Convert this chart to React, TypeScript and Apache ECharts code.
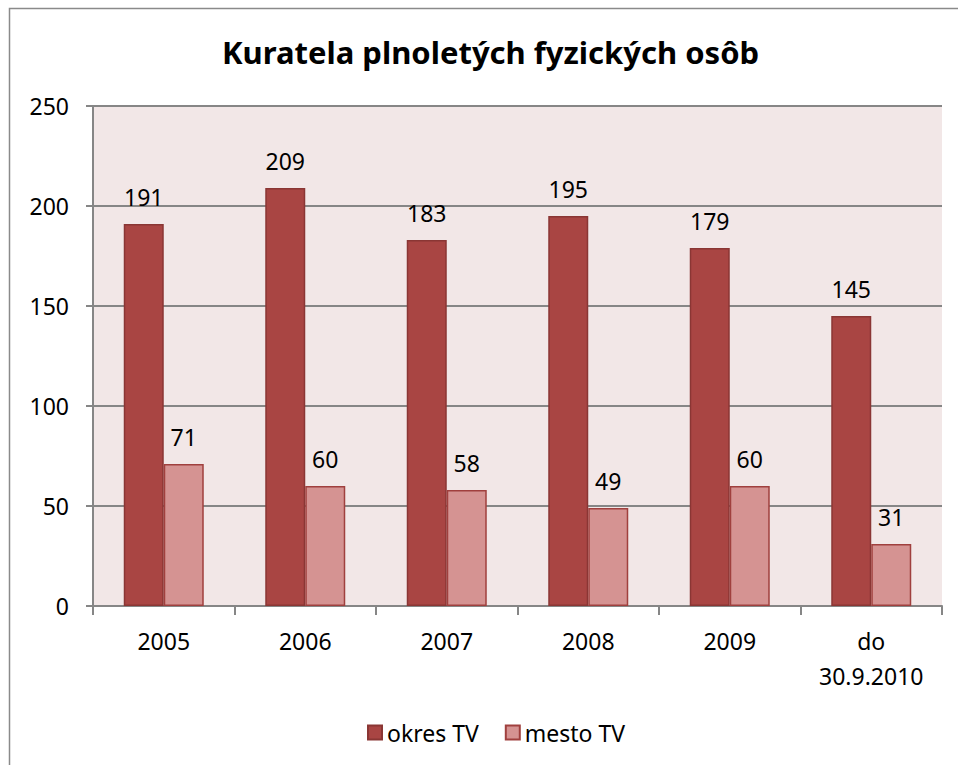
import React, { useEffect, useRef } from "react";
import * as echarts from "echarts";

const categories = ["2005", "2006", "2007", "2008", "2009", "do\n30.9.2010"];
const okresTV = [191, 209, 183, 195, 179, 145];
const mestoTV = [71, 60, 58, 49, 60, 31];
const yTicks = { min: 0, max: 250, interval: 50 };

const FONT = "'Noto Sans', 'DejaVu Sans', sans-serif";

export default function App() {
  const ref = useRef<HTMLDivElement>(null);
  useEffect(() => {
    if (!ref.current) return;
    const chart = echarts.init(ref.current, undefined, { renderer: "svg" });
    const labelCfg = {
      show: true,
      position: "top",
      distance: 16,
      color: "#000",
      fontSize: 23,
      fontFamily: FONT,
    };
    chart.setOption({
      animation: false,
      backgroundColor: "#fff",
      title: {
        text: "Kuratela plnoletých fyzických osôb",
        left: 217,
        top: 31,
        textStyle: { fontSize: 31, fontWeight: "bold", color: "#000", fontFamily: FONT },
      },
      graphic: [
        {
          type: "rect",
          shape: { x: 9.5, y: 8.5, width: 1000, height: 1000 },
          style: { fill: "none", stroke: "#8a8a8a", lineWidth: 1.5 },
          silent: true,
        },
      ],
      legend: {
        top: 716,
        left: 362,
        itemWidth: 14,
        itemHeight: 14,
        itemGap: 26,
        icon: "rect",
        textStyle: { fontSize: 23, color: "#000", fontFamily: FONT },
        data: ["okres TV", "mesto TV"],
      },
      grid: {
        left: 93,
        right: 16,
        top: 106,
        bottom: 159,
        show: true,
        backgroundColor: "#F2E7E7",
        borderWidth: 0,
      },
      xAxis: {
        type: "category",
        data: categories,
        axisLine: { lineStyle: { color: "#868686", width: 2 } },
        axisTick: { show: true, length: 9, lineStyle: { color: "#868686", width: 2 } },
        axisLabel: {
          fontSize: 23,
          color: "#000",
          fontFamily: FONT,
          margin: 17,
          lineHeight: 35,
        },
      },
      yAxis: {
        type: "value",
        min: yTicks.min,
        max: yTicks.max,
        interval: yTicks.interval,
        axisLine: { show: true, lineStyle: { color: "#868686", width: 2 } },
        axisTick: { show: true, length: 7, lineStyle: { color: "#868686", width: 2 } },
        splitLine: { lineStyle: { color: "#868686", width: 2 } },
        axisLabel: { fontSize: 23, color: "#000", fontFamily: FONT, margin: 24 },
      },
      series: [
        {
          name: "okres TV",
          type: "bar",
          data: okresTV,
          barWidth: 40,
          barGap: "0%",
          itemStyle: { color: "#A94543", borderColor: "#8A3634", borderWidth: 1.5 },
          label: labelCfg,
        },
        {
          name: "mesto TV",
          type: "bar",
          data: mestoTV,
          barWidth: 40,
          barGap: "0%",
          itemStyle: { color: "#D59392", borderColor: "#A0403E", borderWidth: 1.5 },
          label: labelCfg,
        },
      ],
    });
    return () => chart.dispose();
  }, []);
  return (
    <div
      ref={ref}
      style={{ position: "fixed", left: 0, top: 0, width: 958, height: 765 }}
    />
  );
}
